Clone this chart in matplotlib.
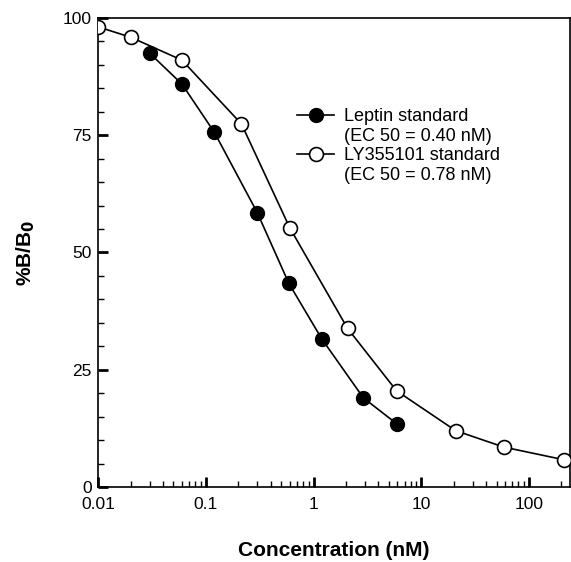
import matplotlib
matplotlib.use("Agg")
import matplotlib.pyplot as plt
from matplotlib.lines import Line2D
from matplotlib.ticker import FixedLocator, LogLocator, NullFormatter, MultipleLocator

plt.rcParams["font.family"] = ["Liberation Sans", "DejaVu Sans"]

# data
leptin_conc = [0.03, 0.06, 0.12, 0.30, 0.59, 1.19, 2.9, 5.9]
leptin_pct = [92.5, 85.9, 75.6, 58.5, 43.4, 31.6, 19.0, 13.5]
ly_conc = [0.01, 0.02, 0.06, 0.214, 0.60, 2.07, 5.9, 20.9, 58.5, 212]
ly_pct = [98.1, 95.9, 91.0, 77.4, 55.3, 33.8, 20.5, 12.0, 8.5, 5.8]

x_ticks = [0.01, 0.1, 1, 10, 100]
x_labels = ["0.01", "0.1", "1", "10", "100"]
y_ticks = [0, 25, 50, 75, 100]

fig = plt.figure(figsize=(5.71, 5.62), dpi=100)
ax = fig.add_axes([0.172, 0.1335, 0.826, 0.8345])

h1, = ax.plot(leptin_conc, leptin_pct, "-o", color="black", lw=1.2,
              ms=10, mfc="black", mec="black", zorder=3)
h2, = ax.plot(ly_conc, ly_pct, "-o", color="black", lw=1.2,
              ms=10, mfc="white", mec="black", mew=1.2, zorder=3)

ax.set_xscale("log")
ax.set_xlim(0.01, 240)
ax.set_ylim(0, 100)
ax.xaxis.set_major_locator(FixedLocator(x_ticks))
ax.set_xticklabels(x_labels)
ax.xaxis.set_minor_locator(LogLocator(base=10, subs=range(2, 10), numticks=20))
ax.xaxis.set_minor_formatter(NullFormatter())
ax.set_yticks(y_ticks)
ax.yaxis.set_minor_locator(MultipleLocator(5))

ax.tick_params(which="both", direction="in", top=False, right=False, labelsize=12.5)
ax.tick_params(which="major", length=7, width=2)
ax.tick_params(which="minor", length=4, width=1)
ax.tick_params(axis="y", pad=4.5)
ax.tick_params(axis="x", pad=7)
for s in ax.spines.values():
    s.set_linewidth(1.2)

ax.set_xlabel("Concentration (nM)", fontsize=15, fontweight="bold", labelpad=21)
ax.set_ylabel("%B/B$_\\mathbf{0}$", fontsize=15, fontweight="bold", labelpad=19)

blank = Line2D([], [], linestyle="none")
ax.legend([h1, blank, h2, blank],
          ["Leptin standard", "(EC 50 = 0.40 nM)",
           "LY355101 standard", "(EC 50 = 0.78 nM)"],
          loc="upper left", bbox_to_anchor=(0.4225, 0.808), frameon=False,
          fontsize=13, handlelength=2.0, handletextpad=0.55,
          labelspacing=0.15, borderpad=0, borderaxespad=0)

fig.savefig("out.png", dpi=100)
